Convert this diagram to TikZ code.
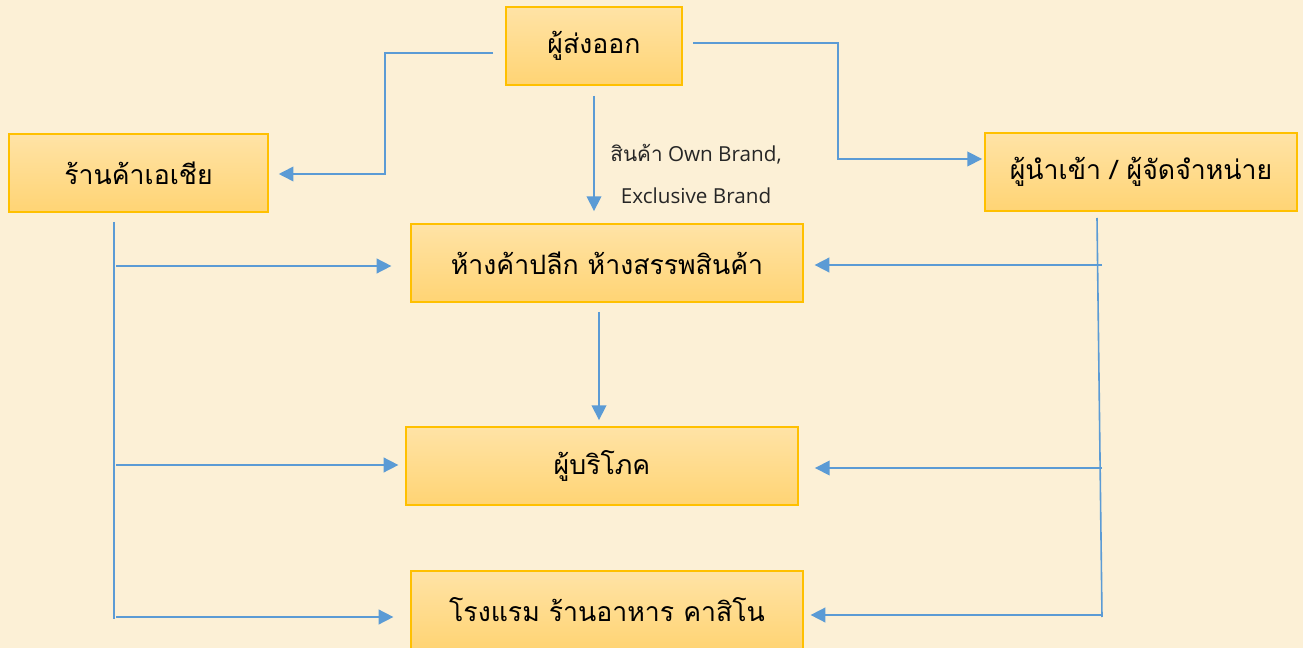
\documentclass[tikz,border=0pt]{standalone}
\usepackage{fontspec}
\newfontfamily\thaifont[Script=Thai]{Loma}
\newfontfamily\latinfont{Open Sans}
\usetikzlibrary{arrows.meta,calc}
\definecolor{parchment}{HTML}{FCF0D6}
\definecolor{goldtop}{HTML}{FFE3A6}
\definecolor{goldbot}{HTML}{FFD474}
\definecolor{goldline}{HTML}{FFC000}
\definecolor{flowblue}{HTML}{5B9BD5}

\begin{document}
\begin{tikzpicture}[x=0.75pt,y=-0.75pt]
\tikzstyle{box}=[draw=goldline,line width=1.4pt,top color=goldtop,bottom color=goldbot,
  minimum height=58.5pt,inner sep=0pt,font=\thaifont\fontsize{20}{24}\selectfont]
\tikzstyle{link}=[draw=flowblue,line width=1.2pt]
\tikzstyle{flow}=[link,-{Triangle[length=11pt,width=11pt]}]

\fill[parchment] (0,0) rectangle (1303,648);
\useasboundingbox (0,0) rectangle (1303,648);

\node[box,minimum width=132pt] (exporter) at (594,46) {ผู้ส่งออก};
\node[box,minimum width=194pt] (asia) at (138.5,173) {ร้านค้าเอเชีย};
\node[box,minimum width=234pt] (importer) at (1141,172) {ผู้นำเข้า / ผู้จัดจำหน่าย};
\node[box,minimum width=294pt] (retail) at (607,263) {ห้างค้าปลีก ห้างสรรพสินค้า};
\node[box,minimum width=294pt] (consumer) at (602,466) {ผู้บริโภค};
\node[box,minimum width=294pt] (hotel) at (607,610) {โรงแรม ร้านอาหาร คาสิโน};
\node[align=center,text=black!85,font=\fontsize{15.5}{31}\selectfont] (brand) at (696,174)
  {{\thaifont สินค้า}\latinfont{} Own Brand,\\ \latinfont Exclusive Brand};

\coordinate (ex-w) at (493,53);
\coordinate (ex-e) at (693,43);
\coordinate (asia-bend) at (385,174);
\coordinate (imp-bend) at (838,159);
\coordinate (ex-s) at (594,96);
\coordinate (ret-s) at (599,312);

\draw[flow,shorten >=7.5pt] (ex-w) -| (asia-bend) -- (asia.east |- asia-bend);
\draw[flow,shorten >=1.5pt] (ex-e) -| (imp-bend) -- (importer.west |- imp-bend);
\draw[flow,shorten >=9pt] (ex-s) -- (ex-s |- retail.north);
\draw[flow,shorten >=4.5pt] (ret-s) -- (ret-s |- consumer.north);

% left trunk
\coordinate (lt-top) at (114,222);
\coordinate (lt-bot) at (114,619);
\draw[link] (lt-top) -- (lt-bot);
\foreach \tgt/\yy/\gap in {retail/266/14,consumer/465/5,hotel/617/12.5}{
  \coordinate (l-\tgt) at (116,\yy);
  \draw[flow,shorten >=\gap pt] (l-\tgt) -- (\tgt.west |- l-\tgt);
}

% right trunk
\coordinate (rt-top) at (1097,218);
\coordinate (rt-bot) at (1102,617);
\draw[link] (rt-top) -- (rt-bot);
\foreach \tgt/\yy/\gap in {retail/265/8,consumer/468/12,hotel/615/5}{
  \coordinate (r-\tgt) at (1102,\yy);
  \draw[flow,shorten >=\gap pt] (r-\tgt) -- (\tgt.east |- r-\tgt);
}
\end{tikzpicture}
\end{document}
